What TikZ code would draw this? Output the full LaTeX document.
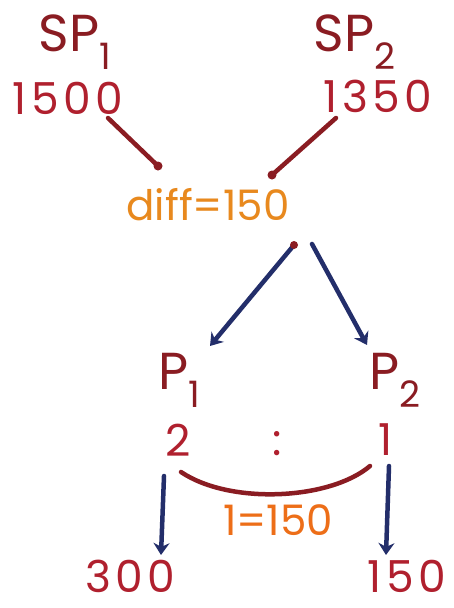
\documentclass[tikz,border=0pt]{standalone}
\usepackage{fontspec}
\setmainfont{Poppins}
\newfontfamily\wide[LetterSpace=10]{Poppins}
\usetikzlibrary{arrows.meta}
\definecolor{maroon}{HTML}{8A1C22}
\definecolor{numred}{HTML}{B0202E}
\definecolor{orng}{HTML}{E8891E}
\definecolor{navy}{HTML}{232E6A}
\tikzset{
  head/.style={text=maroon, font=\fontsize{52}{52}\selectfont, inner sep=0pt},
  num/.style={text=numred, font=\wide\fontsize{44}{44}\selectfont, inner sep=0pt},
  res/.style={text=orng, font=\fontsize{42}{42}\selectfont, inner sep=0pt},
  redline/.style={draw=maroon, line width=4.5pt, line cap=round},
  blueline/.style={draw=navy, line width=4.5pt, line cap=round, -{Stealth[length=12pt,width=16pt]}},
}
\begin{document}
\begin{tikzpicture}[x=1pt,y=-1pt]
\useasboundingbox[fill=white] (0,0) rectangle (454,608);
\node[head] (sp1) at (75,42) {SP\textsubscript{1}};
\node[head] (sp2) at (355,42) {SP\textsubscript{2}};
\node[num] (n1) at (68,98) {1500};
\node[num] (n2) at (378,96) {1350};
\node[res] (diff) at (208,205) {diff=150};
\coordinate (a1) at (108,118);
\coordinate (a2) at (158,166);
\coordinate (b1) at (336,118);
\coordinate (b2) at (272,175);
\draw[redline] (a1) -- (a2);
\fill[maroon] (a2) circle (4.5pt);
\draw[redline] (b1) -- (b2);
\fill[maroon] (b2) circle (4.5pt);
\node[head] (p1) at (180,380) {P\textsubscript{1}};
\node[head] (p2) at (395,380) {P\textsubscript{2}};
\coordinate (c0) at (294,245);
\coordinate (c1) at (210,346);
\coordinate (d0) at (312,244);
\coordinate (d1) at (367,345);
\draw[blueline] (c0) -- (c1);
\fill[maroon] (c0) circle (4pt);
\draw[blueline] (d0) -- (d1);
\node[num] (r1) at (178,440) {2};
\node[num] (colon) at (277,444) {:};
\node[num] (r2) at (386,440) {1};
\coordinate (e0) at (181,472);
\coordinate (e1) at (370,466);
\draw[redline] (e0) .. controls (230,505) and (330,500) .. (e1);
\node[res, text=orng!80!red] (eq) at (278,520) {1=150};
\coordinate (f0) at (164,476);
\coordinate (f1) at (161,555);
\coordinate (g0) at (389,466);
\coordinate (g1) at (386,555);
\draw[blueline] (f0) -- (f1);
\draw[blueline] (g0) -- (g1);
\node[num] (o1) at (130,576) {300};
\node[num] (o2) at (407,576) {150};
\end{tikzpicture}
\end{document}
